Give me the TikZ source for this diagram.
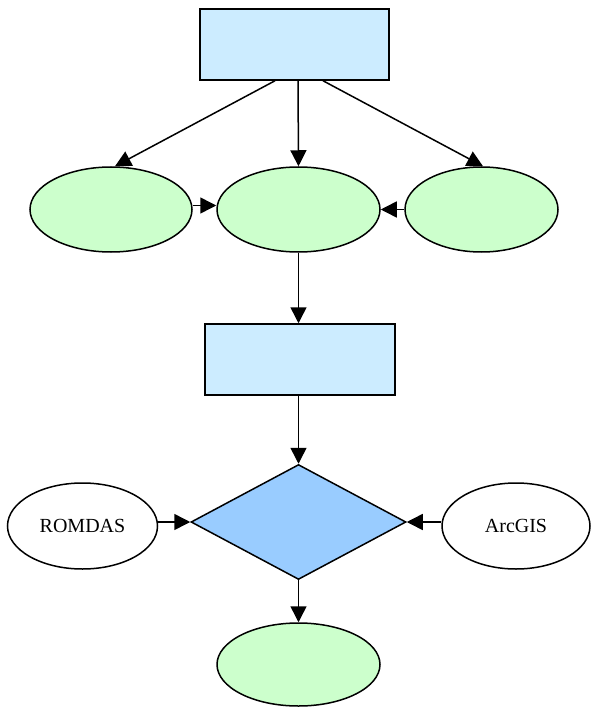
\documentclass[tikz,border=0pt]{standalone}
\usepackage{fontspec}
\setmainfont{Liberation Serif}
\usetikzlibrary{shapes.geometric,arrows.meta}

\definecolor{boxblue}{RGB}{204,236,255}
\definecolor{ovalgreen}{RGB}{204,255,204}
\definecolor{diablue}{RGB}{153,204,255}

\begin{document}
\begin{tikzpicture}[x=1pt, y=-1pt, line width=1.5pt,
    box/.style={draw, rectangle, fill=boxblue, minimum width=189pt, minimum height=71pt},
    oval/.style={draw, ellipse, fill=ovalgreen, minimum height=85pt},
    src/.style={draw, ellipse, fill=white, minimum width=150pt, minimum height=86pt, font=\fontsize{20}{24}\selectfont},
    check/.style={draw, diamond, fill=diablue, minimum width=215pt, minimum height=115pt, inner sep=0pt},
    arr/.style={-{Triangle[length=16pt,width=16pt]}}]
  \useasboundingbox (0,0) rectangle (591,708);

  % Top box and the three ovals below it
  \node[box] (top) at (294.5,44.5) {};
  \node[oval, minimum width=162pt] (left) at (111,209.5) {};
  \node[oval, minimum width=163pt] (mid) at (298.5,209.5) {};
  \node[oval, minimum width=153pt] (right) at (481.5,209.5) {};

  % Second box and the decision
  \node[box, minimum width=190pt] (box2) at (300,359.5) {};
  \node[check] (dec) at (298.5,522) {};

  % Inputs to the decision
  \node[src] (romdas) at (82.5,526) {ROMDAS};
  \node[src, minimum width=148pt] (arcgis) at (516,526) {ArcGIS};

  % Result
  \node[oval, minimum width=163pt, minimum height=83pt] (res) at (298.5,664.5) {};

  % Edges
  \draw[arr] ([xshift=-19.5pt]top.south) -- ([xshift=4pt]left.north);
  \draw[arr] ([xshift=3.5pt]top.south) -- (mid.north);
  \draw[arr] ([xshift=28.5pt]top.south) -- ([xshift=1.5pt]right.north);
  \draw[arr] ([yshift=4pt]left.east) -- ([yshift=4pt]mid.west);
  \draw[arr] (right.west) -- (mid.east);
  \draw[arr] (mid.south) -- (mid.south |- box2.north);
  \draw[arr] (dec.north |- box2.south) -- (dec.north);
  \draw[arr] (romdas.east |- dec.west) -- (dec.west);
  \draw[arr] (arcgis.west |- dec.east) -- (dec.east);
  \draw[arr] (dec.south) -- (res.north);
\end{tikzpicture}
\end{document}
